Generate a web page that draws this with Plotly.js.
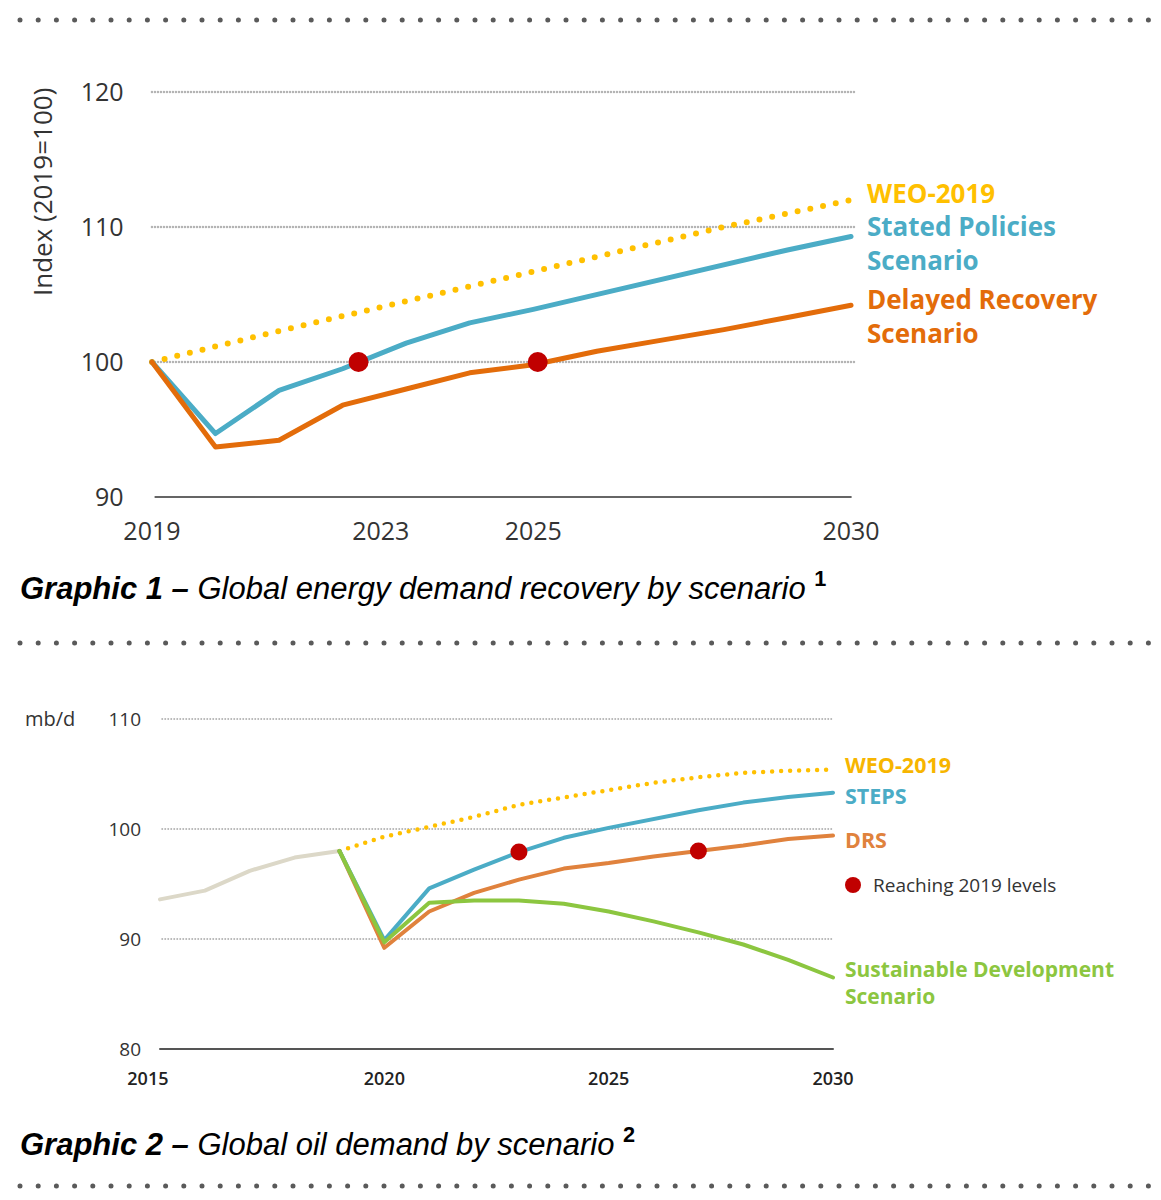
<!DOCTYPE html>
<html><head><meta charset="utf-8">
<script src="https://cdn.plot.ly/plotly-3.0.1.min.js"></script>
<style>
body{margin:0;background:#fff}
#chart{width:1161px;height:1200px}
.scatterlayer .js-line{stroke-linecap:round;stroke-linejoin:round}
.shapelayer path{stroke-linecap:round}
</style></head><body><div id="chart"></div>
<script>
// ---------- Graphic 1: Global energy demand recovery (Index 2019=100) ----------
const years1 = [2019,2020,2021,2022,2023,2024,2025,2026,2027,2028,2029,2030];
const weo1   = [100,101.2,102.3,103.4,104.5,105.7,106.8,107.9,109.0,110.0,111.0,112.0];
const steps1 = [100,94.7,97.9,99.5,101.4,102.9,103.9,105.0,106.1,107.2,108.3,109.3];
const drs1   = [100,93.7,94.2,96.8,98.0,99.2,99.8,100.8,101.6,102.4,103.3,104.2];
const reach1X = [2022.25,2025.07];
const reach1Y = [100,100];
const xTickVals1 = [2019,2022.6,2025,2030];
const xTickText1 = ["2019","2023","2025","2030"];
const yTickVals1 = [90,100,110,120];
const grid1 = [100,110,120];

// ---------- Graphic 2: Global oil demand (mb/d) ----------
const histYears2 = [2015,2016,2017,2018,2019];
const hist2  = [93.6,94.4,96.2,97.4,98.0];
const years2 = [2019,2020,2021,2022,2023,2024,2025,2026,2027,2028,2029,2030];
const weo2   = [98.0,99.3,100.2,101.1,102.2,102.9,103.6,104.2,104.7,105.1,105.3,105.4];
const steps2 = [98.0,89.9,94.6,96.3,97.9,99.2,100.1,100.9,101.7,102.4,102.9,103.3];
const drs2   = [98.0,89.2,92.5,94.2,95.4,96.4,96.9,97.5,98.0,98.5,99.1,99.4];
const sds2   = [98.0,89.7,93.3,93.5,93.5,93.2,92.5,91.6,90.6,89.5,88.1,86.5];
const reach2X = [2023,2027];
const reach2Y = [97.9,98.0];
const xTickVals2 = [2014.73,2020,2025,2030];
const xTickText2 = ["2015","2020","2025","2030"];
const yTickVals2 = [80,90,100,110];
const grid2 = [90,100,110];

// colours
const C = {yellow:'#ffc000', blue:'#4bacc6', orange:'#e36c0a', orange2:'#e0823d', green:'#8cc640', grey:'#dcd8c8', red:'#c00000'};

const W = 1161, H = 1200;
const px = x => x / W;
const py = y => 1 - y / H;

const traces = [
  {x: years1, y: weo1, xaxis:'x', yaxis:'y', mode:'lines', line:{color:C.yellow, width:6, dash:'0px,13px'}},
  {x: years1, y: steps1, xaxis:'x', yaxis:'y', mode:'lines', line:{color:C.blue, width:5}},
  {x: years1, y: drs1, xaxis:'x', yaxis:'y', mode:'lines', line:{color:C.orange, width:5}},
  {x: reach1X, y: reach1Y, xaxis:'x', yaxis:'y', mode:'markers', marker:{color:C.red, size:20}},

  {x: histYears2, y: hist2, xaxis:'x2', yaxis:'y2', mode:'lines', line:{color:C.grey, width:4}},
  {x: years2, y: weo2, xaxis:'x2', yaxis:'y2', mode:'lines', line:{color:C.yellow, width:4.5, dash:'0px,9px'}},
  {x: years2, y: drs2, xaxis:'x2', yaxis:'y2', mode:'lines', line:{color:C.orange2, width:4}},
  {x: years2, y: steps2, xaxis:'x2', yaxis:'y2', mode:'lines', line:{color:C.blue, width:4}},
  {x: years2, y: sds2, xaxis:'x2', yaxis:'y2', mode:'lines', line:{color:C.green, width:4}},
  {x: reach2X, y: reach2Y, xaxis:'x2', yaxis:'y2', mode:'markers', marker:{color:C.red, size:17}}
];

const shapes = [];
// separators
[20, 643, 1186].forEach(y => shapes.push({type:'line', xref:'paper', yref:'paper', x0:px(20), x1:px(1149), y0:py(y), y1:py(y), line:{color:'#5a5a5a', width:5, dash:'0px,18.2px'}}));
// grid lines
grid1.forEach(v => shapes.push({type:'line', xref:'x', yref:'y', x0:2019, x1:2030.05, y0:v, y1:v, layer:'below', line:{color:'#b4b4b4', width:2.5, dash:'0px,3px'}}));
grid2.forEach(v => shapes.push({type:'line', xref:'x2', yref:'y2', x0:2015.05, x1:2030, y0:v, y1:v, layer:'below', line:{color:'#b4b4b4', width:2, dash:'0px,3px'}}));
// axis base lines
shapes.push({type:'line', xref:'x', yref:'y', x0:2019.05, x1:2030, y0:90, y1:90, line:{color:'#333', width:1.5}});
shapes.push({type:'line', xref:'x2', yref:'y2', x0:2015, x1:2030, y0:80, y1:80, line:{color:'#555', width:2}});
// legend dot
shapes.push({type:'circle', xref:'paper', yref:'paper', x0:px(845), x1:px(861), y0:py(893), y1:py(877), fillcolor:C.red, line:{width:0}});

const F = 'Open Sans, sans-serif';
const lab = (text, x, y, color, size, weight) => ({text, xref:'paper', yref:'paper', x:px(x), y:py(y), xanchor:'left', yanchor:'middle', align:'left', showarrow:false, font:{family:F, size, color, weight:(weight===undefined?700:weight)}});

const annotations = [
  // Graphic 1 labels
  lab('WEO-2019', 865, 193, C.yellow, 26),
  lab('Stated Policies<br>Scenario', 865, 243, C.blue, 26),
  lab('Delayed Recovery<br>Scenario', 865, 316, C.orange, 26),
  {text:'Index (2019=100)', xref:'paper', yref:'paper', x:px(42), y:py(192), textangle:-90, showarrow:false, xanchor:'center', yanchor:'middle', font:{family:F, size:26, color:'#333'}},
  // Graphic 2 labels
  lab('WEO-2019', 843, 764, '#f7b500', 21.5),
  lab('STEPS', 843, 795, C.blue, 21.5),
  lab('DRS', 843, 839, C.orange2, 21.5),
  lab('Reaching 2019 levels', 871, 885, '#333', 19, 400),
  lab('Sustainable Development<br>Scenario', 843, 982, C.green, 21),
  lab('mb/d', 23, 718, '#333', 20, 400),
  // captions
  {text:'<b>Graphic 1 –</b> Global energy demand recovery by scenario <sup><span style="font-style:normal"><b>1</b></span></sup>', xref:'paper', yref:'paper', x:px(18), y:py(586), xanchor:'left', yanchor:'middle', showarrow:false, font:{family:'Liberation Sans, Arial, sans-serif', size:31, color:'#000', style:'italic'}},
  {text:'<b>Graphic 2 –</b> Global oil demand by scenario <sup><span style="font-style:normal"><b>2</b></span></sup>', xref:'paper', yref:'paper', x:px(18), y:py(1142), xanchor:'left', yanchor:'middle', showarrow:false, font:{family:'Liberation Sans, Arial, sans-serif', size:31, color:'#000', style:'italic'}}
];

const layout = {
  width: W, height: H,
  margin: {l:0, r:0, t:0, b:0},
  paper_bgcolor:'#fff', plot_bgcolor:'rgba(0,0,0,0)',
  showlegend:false,
  hovermode:false,
  xaxis: {domain:[145.6/W, 857.4/W], range:[2018.9,2030.1], tickvals:xTickVals1, ticktext:xTickText1, showgrid:false, zeroline:false, showline:false, ticks:'outside', ticklen:5, tickcolor:'rgba(0,0,0,0)', tickfont:{family:F, size:25, color:'#333'}},
  yaxis: {anchor:'x', domain:[1-503.75/H, 1-85.25/H], range:[89.5,120.5], tickvals:yTickVals1, showgrid:false, zeroline:false, showline:false, ticks:'outside', ticklen:16, tickcolor:'rgba(0,0,0,0)', tickfont:{family:F, size:25, color:'#333'}},
  xaxis2: {anchor:'y2', domain:[142.05/W, 837.5/W], range:[2014.6,2030.1], tickvals:xTickVals2, ticktext:xTickText2, showgrid:false, zeroline:false, showline:false, ticks:'outside', ticklen:8, tickcolor:'rgba(0,0,0,0)', tickfont:{family:F, size:18, color:'#222', weight:600}},
  yaxis2: {anchor:'x2', domain:[1-1054.5/H, 1-713.5/H], range:[79.5,110.5], tickvals:yTickVals2, showgrid:false, zeroline:false, showline:false, ticks:'', tickfont:{family:F, size:19, color:'#333'}},
  shapes, annotations
};

Plotly.newPlot('chart', traces, layout, {staticPlot:true, displayModeBar:false});
</script></body></html>
